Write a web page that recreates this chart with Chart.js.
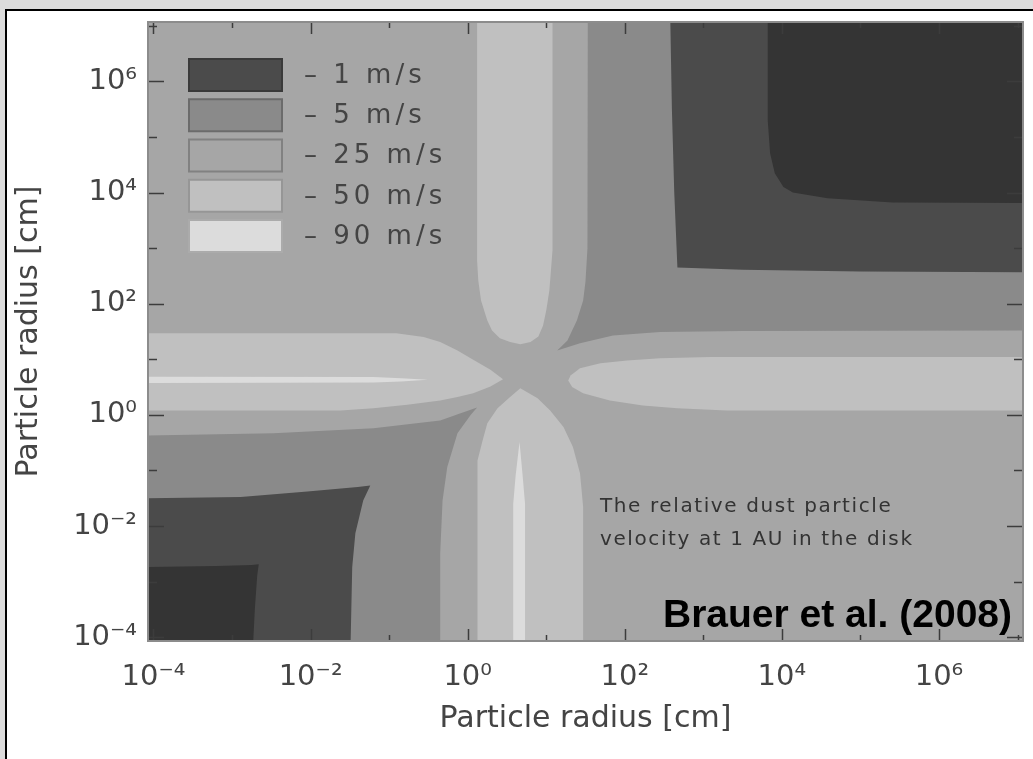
<!DOCTYPE html>
<html>
<head>
<meta charset="utf-8">
<script src="https://cdn.jsdelivr.net/npm/chart.js@4.4.1/dist/chart.umd.min.js"></script>
<style>
  html, body { margin: 0; padding: 0; background: #dcdcdc; }
  body { width: 1033px; height: 759px; position: relative; overflow: hidden; }
  #sheet { position: absolute; left: 5px; top: 9px; width: 1040px; height: 760px;
           border-left: 2px solid #000; border-top: 2px solid #000; background: #fff; }
  #plot { position: absolute; left: 0; top: 0; }
</style>
</head>
<body>
<div id="sheet"></div>
<canvas id="plot" width="1033" height="759"></canvas>
<script>
// Relative dust-particle velocity at 1 AU, contour bands in the (a1, a2) plane.
// Every outline is a list of [log10 a1, log10 a2] vertices (radii in cm).

// 5–25 m/s
const band5to25Upper = [[1.53,8],[1.53,4.0],[1.52,3.0],[1.50,2.4],[1.47,2.06],[1.39,1.70],[1.27,1.34],[1.14,1.16],
  [1.43,1.29],[1.85,1.43],[2.45,1.49],[3.5,1.51],[8,1.52],[8,8]];
const band5to25Lower = [[-5,-0.37],[-4.07,-0.37],[-2.47,-0.33],[-1.2,-0.24],[-0.35,-0.10],[-0.09,0.03],[0.12,0.13],
  [0.04,0.0],[-0.13,-0.33],[-0.26,-0.94],[-0.32,-1.54],[-0.35,-2.5],[-0.35,-5],[-5,-5]];
// 1–5 m/s
const band1to5Upper = [[2.58,8],[2.58,7.07],[2.60,5.5],[2.63,4.0],[2.67,2.65],[3.5,2.61],[5,2.58],[8,2.56],[8,8]];
const band1to5Lower = [[-5,-1.5],[-4.07,-1.5],[-2.89,-1.48],[-2.04,-1.38],[-1.4,-1.30],[-1.24,-1.27],[-1.33,-1.54],
  [-1.43,-2.13],[-1.47,-2.74],[-1.49,-4.07],[-1.49,-5],[-5,-5]];
// below 1 m/s
const bandBelow1Upper = [[3.82,8],[3.82,5.3],[3.85,4.71],[3.91,4.35],[4.02,4.10],[4.14,4.00],[4.58,3.90],[5.41,3.82],
  [8,3.81],[8,8]];
const bandBelow1Lower = [[-5,-2.74],[-4.07,-2.74],[-3.2,-2.72],[-2.75,-2.70],[-2.66,-2.69],[-2.68,-2.9],[-2.71,-3.5],
  [-2.73,-4.07],[-2.73,-5],[-5,-5]];
// 50–90 m/s lobes
const band50to90Left = [[-5,1.47],[-0.91,1.47],[-0.56,1.40],[-0.35,1.31],[-0.13,1.16],[0.07,0.99],[0.29,0.81],[0.45,0.64],
  [0.29,0.51],[0.07,0.39],[-0.13,0.32],[-0.35,0.26],[-0.77,0.18],[-1.2,0.12],[-1.62,0.08],[-5,0.08]];
const band50to90Bottom = [[0.12,-5],[0.12,-1.3],[0.13,-0.82],[0.19,-0.46],[0.25,-0.15],[0.38,0.12],[0.54,0.32],[0.67,0.48],
  [0.89,0.30],[1.05,0.08],[1.22,-0.22],[1.34,-0.58],[1.43,-1.05],[1.47,-1.66],[1.47,-5]];
const band50to90Top = [[0.12,8],[0.12,2.78],[0.135,2.42],[0.17,2.06],[0.25,1.70],[0.31,1.52],[0.41,1.38],[0.54,1.31],
  [0.67,1.27],[0.80,1.31],[0.90,1.41],[0.96,1.61],[1.00,1.88],[1.04,2.24],[1.06,2.60],[1.08,2.96],[1.08,8]];
const band50to90Right = [[8,1.04],[3.09,1.04],[2.45,1.02],[2.03,0.98],[1.69,0.93],[1.43,0.84],[1.31,0.71],[1.28,0.62],
  [1.33,0.50],[1.47,0.39],[1.81,0.26],[2.23,0.17],[2.67,0.12],[3.30,0.08],[8,0.08]];
// above 90 m/s streaks
const bandAbove90Left = [[-5,0.69],[-1.2,0.68],[-0.85,0.66],[-0.51,0.63],[-0.85,0.60],[-1.2,0.58],[-5,0.57]];
const bandAbove90Bottom = [[0.58,-5],[0.58,-1.6],[0.61,-1.1],[0.66,-0.49],[0.70,-1.1],[0.73,-1.6],[0.73,-5]];

const axisRangeExponents = [-4.07, 7.07];
const xTickExponents = [-4, -2, 0, 2, 4, 6];
const yTickExponents = [-4, -2, 0, 2, 4, 6];
const decadeExponents = [-4, -3, -2, -1, 0, 1, 2, 3, 4, 5, 6, 7];
const legendLevels = ['1 m/s', '5 m/s', '25 m/s', '50 m/s', '90 m/s'];
const axisTitle = 'Particle radius [cm]';
const noteLines = ['The relative dust particle', 'velocity at 1 AU in the disk'];
const creditText = 'Brauer et al. (2008)';

// grey tones of the bands
const tones = {
  below1: '#343434', from1to5: '#4b4b4b', from5to25: '#8a8a8a',
  from25to50: '#a6a6a6', from50to90: '#c0c0c0', above90: '#dcdcdc'
};
const legendTones = [tones.from1to5, tones.from5to25, tones.from25to50, tones.from50to90, tones.above90];

// painted bottom to top
const layers = [
  { label: '5–25 m/s', outline: band5to25Upper, tone: 'from5to25' },
  { label: '5–25 m/s', outline: band5to25Lower, tone: 'from5to25' },
  { label: '1–5 m/s', outline: band1to5Upper, tone: 'from1to5' },
  { label: '1–5 m/s', outline: band1to5Lower, tone: 'from1to5' },
  { label: '< 1 m/s', outline: bandBelow1Upper, tone: 'below1' },
  { label: '< 1 m/s', outline: bandBelow1Lower, tone: 'below1' },
  { label: '50–90 m/s', outline: band50to90Left, tone: 'from50to90' },
  { label: '50–90 m/s', outline: band50to90Bottom, tone: 'from50to90' },
  { label: '50–90 m/s', outline: band50to90Top, tone: 'from50to90' },
  { label: '50–90 m/s', outline: band50to90Right, tone: 'from50to90' },
  { label: '> 90 m/s', outline: bandAbove90Left, tone: 'above90' },
  { label: '> 90 m/s', outline: bandAbove90Bottom, tone: 'above90' }
];

const datasets = layers.map((layer, i) => ({
  label: layer.label,
  data: layer.outline.map(([u, v]) => ({ x: Math.pow(10, u), y: Math.pow(10, v) })),
  showLine: true,
  fill: 'shape',
  backgroundColor: tones[layer.tone],
  borderColor: 'rgba(0,0,0,0)',
  borderWidth: 0,
  pointRadius: 0,
  pointHoverRadius: 0,
  order: layers.length - i
}));

const SUP = { '-': '\u207B', '0': '\u2070', '1': '\u00B9', '2': '\u00B2', '3': '\u00B3',
  '4': '\u2074', '5': '\u2075', '6': '\u2076', '7': '\u2077', '8': '\u2078', '9': '\u2079' };
const powerLabel = (value) => {
  const e = Math.round(Math.log10(value));
  return '10' + String(e).split('').map(c => SUP[c]).join('');
};

const tickFont = { family: 'DejaVu Sans', size: 29 };
const titleFont = { family: 'DejaVu Sans', size: 30 };
const inkColor = '#444444';

// plot background = the 25–50 m/s band
const bandBackground = {
  id: 'bandBackground',
  beforeDraw(chart) {
    const { ctx, chartArea: a } = chart;
    ctx.save();
    ctx.fillStyle = tones.from25to50;
    ctx.fillRect(a.left, a.top, a.right - a.left, a.bottom - a.top);
    ctx.restore();
  }
};

// inward tick marks on all four sides and the panel outline
const panelFrame = {
  id: 'panelFrame',
  afterDatasetsDraw(chart) {
    const { ctx, chartArea: a, scales: { x, y } } = chart;
    ctx.save();
    ctx.strokeStyle = '#3c3c3c';
    ctx.lineWidth = 1.5;
    ctx.beginPath();
    decadeExponents.forEach(e => {
      const v = Math.pow(10, e);
      const px = Math.round(x.getPixelForValue(v)) + 0.5;
      if (px >= a.left && px <= a.right) {
        const len = xTickExponents.includes(e) ? 12 : 6;
        ctx.moveTo(px, a.bottom); ctx.lineTo(px, a.bottom - len);
        ctx.moveTo(px, a.top); ctx.lineTo(px, a.top + len);
      }
      const py = Math.round(y.getPixelForValue(v)) + 0.5;
      if (py >= a.top && py <= a.bottom) {
        const len = yTickExponents.includes(e) ? 16 : 9;
        ctx.moveTo(a.left, py); ctx.lineTo(a.left + len, py);
        ctx.moveTo(a.right, py); ctx.lineTo(a.right - len, py);
      }
    });
    ctx.stroke();
    ctx.strokeStyle = '#8c8c8c';
    ctx.lineWidth = 2;
    ctx.strokeRect(a.left, a.top, a.right - a.left, a.bottom - a.top);
    ctx.restore();
  }
};

// level key, caption and reference drawn inside the panel
const panelNotes = {
  id: 'panelNotes',
  afterDraw(chart) {
    const { ctx, chartArea: a } = chart;
    ctx.save();
    const boxLeft = a.left + 40, boxTop = a.top + 36, boxW = 95, boxH = 34, pitch = 40.25;
    ctx.font = '26px "DejaVu Sans"';
    ctx.textBaseline = 'middle';
    ctx.textAlign = 'left';
    ctx.letterSpacing = '4px';
    legendLevels.forEach((lvl, i) => {
      const top = boxTop + i * pitch;
      ctx.fillStyle = legendTones[i];
      ctx.fillRect(boxLeft, top, boxW, boxH);
      ctx.strokeStyle = 'rgba(0,0,0,0.22)';
      ctx.lineWidth = 2;
      ctx.strokeRect(boxLeft + 1, top + 1, boxW - 2, boxH - 2);
      ctx.fillStyle = inkColor;
      ctx.fillText('\u2013 ' + lvl, boxLeft + 116, top + boxH / 2 + 1);
    });

    ctx.font = '20px "DejaVu Sans"';
    ctx.letterSpacing = '1.6px';
    ctx.textBaseline = 'alphabetic';
    ctx.fillStyle = '#333333';
    noteLines.forEach((line, i) => ctx.fillText(line, 600, 512 + i * 33));

    ctx.letterSpacing = '0px';
    ctx.font = 'bold 39px "Liberation Sans"';
    ctx.textAlign = 'right';
    ctx.fillStyle = '#000000';
    ctx.fillText(creditText, a.right - 11, 627);
    ctx.restore();
  }
};

const axisCommon = (tickExps, pad) => ({
  type: 'logarithmic',
  min: Math.pow(10, axisRangeExponents[0]),
  max: Math.pow(10, axisRangeExponents[1]),
  afterBuildTicks: (scale) => { scale.ticks = tickExps.map(e => ({ value: Math.pow(10, e) })); },
  grid: { display: false, drawTicks: false },
  border: { display: false },
  ticks: { callback: powerLabel, font: tickFont, color: inkColor, autoSkip: false, maxRotation: 0, padding: pad }
});

new Chart(document.getElementById('plot'), {
  type: 'scatter',
  data: { datasets },
  options: {
    responsive: false,
    animation: false,
    devicePixelRatio: 1,
    layout: { padding: { left: 0, top: 22, right: 10, bottom: 0 } },
    plugins: { legend: { display: false }, tooltip: { enabled: false } },
    events: [],
    scales: {
      x: Object.assign(axisCommon(xTickExponents, 19), {
        position: 'bottom',
        afterFit: (scale) => { scale.height = 118; scale.paddingLeft = 0; scale.paddingRight = 0; },
        title: { display: true, text: axisTitle, font: titleFont, color: inkColor, padding: { top: 0, bottom: 22 } }
      }),
      y: Object.assign(axisCommon(yTickExponents, 11), {
        position: 'left',
        afterFit: (scale) => { scale.width = 148; scale.paddingTop = 0; scale.paddingBottom = 0; },
        title: { display: true, text: axisTitle, font: titleFont, color: inkColor, padding: { top: 11, bottom: 0 } }
      })
    }
  },
  plugins: [bandBackground, panelFrame, panelNotes]
});
</script>
</body>
</html>
